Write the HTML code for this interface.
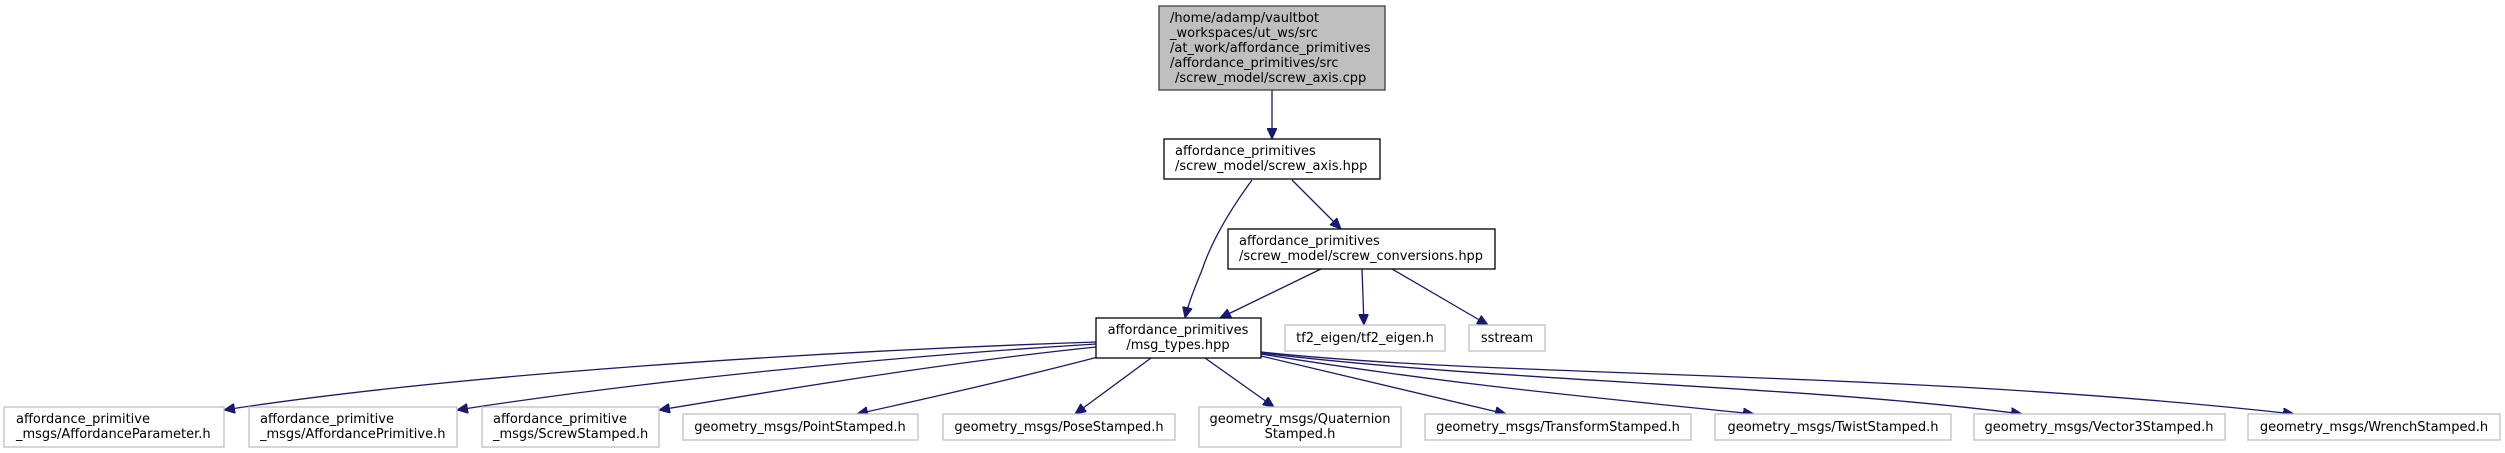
<!DOCTYPE html>
<html><head><meta charset="utf-8"><style>
html,body{margin:0;padding:0;background:#fff;}
svg{display:block;}
text{font-family:"DejaVu Sans","Liberation Sans",sans-serif;font-size:13px;fill:#000;}
.e{fill:none;stroke:#191970;stroke-width:1.3;marker-end:url(#a);}
.g{fill:#fff;stroke:#bfbfbf;stroke-width:1.3;}
.b{fill:#fff;stroke:#000;stroke-width:1.3;}
</style></head><body>
<svg width="2505" height="453" viewBox="0 0 2505 453" xmlns="http://www.w3.org/2000/svg">
<defs>
<marker id="a" markerWidth="12" markerHeight="10" refX="11" refY="5" orient="auto" markerUnits="userSpaceOnUse">
<path d="M0,0 L11,5 L0,10 z" fill="#191970" stroke="#191970"/>
</marker>
</defs>

<!-- edges -->
<path class="e" d="M1272,90 L1272,139"/>
<path class="e" d="M1252,180 C1230,210 1212,240 1202,270 C1193,292 1188,305 1185,318"/>
<path class="e" d="M1292,180 L1341,229"/>
<path class="e" d="M1321,269 L1220,318"/>
<path class="e" d="M1362,269 L1364,325"/>
<path class="e" d="M1392,269 L1488,325"/>

<path class="e" d="M1096,342 C800,352 450,375 224,410"/>
<path class="e" d="M1096,344 C900,356 650,380 457,410"/>
<path class="e" d="M1096,347 C950,362 780,390 659,410"/>
<path class="e" d="M1098,357 C1010,380 920,400 857,414"/>
<path class="e" d="M1151,358 L1075,414"/>
<path class="e" d="M1205,358 L1274,407"/>
<path class="e" d="M1261,356 L1506,414"/>
<path class="e" d="M1261,354 C1450,385 1620,400 1754,414"/>
<path class="e" d="M1261,353 C1500,382 1800,385 2022,414"/>
<path class="e" d="M1261,352 C1500,378 1900,370 2294,414"/>

<!-- top node -->
<rect x="1159" y="6" width="226" height="84" fill="#bfbfbf" stroke="#404040" stroke-width="1.3"/>
<text x="1170" y="22">/home/adamp/vaultbot</text>
<text x="1170" y="37">_workspaces/ut_ws/src</text>
<text x="1170" y="52">/at_work/affordance_primitives</text>
<text x="1170" y="67">/affordance_primitives/src</text>
<text x="1175" y="82">/screw_model/screw_axis.cpp</text>

<rect class="b" x="1164" y="139" width="216" height="40"/>
<text x="1175" y="155">affordance_primitives</text>
<text x="1175" y="170">/screw_model/screw_axis.hpp</text>

<rect class="b" x="1228" y="229" width="267" height="40"/>
<text x="1239" y="245">affordance_primitives</text>
<text x="1239" y="260">/screw_model/screw_conversions.hpp</text>

<rect class="b" x="1096" y="318" width="165" height="40" stroke="#404040" stroke-width="1.6"/>
<text x="1178" y="334" text-anchor="middle">affordance_primitives</text>
<text x="1178" y="349" text-anchor="middle">/msg_types.hpp</text>

<rect class="g" x="1285" y="325" width="160" height="26"/>
<text x="1365" y="342" text-anchor="middle">tf2_eigen/tf2_eigen.h</text>
<rect class="g" x="1469" y="325" width="76" height="26"/>
<text x="1507" y="342" text-anchor="middle">sstream</text>

<!-- bottom row -->
<rect class="g" x="4" y="407" width="220" height="40"/>
<text x="16" y="423">affordance_primitive</text>
<text x="16" y="438">_msgs/AffordanceParameter.h</text>

<rect class="g" x="249" y="407" width="208" height="40"/>
<text x="260" y="423">affordance_primitive</text>
<text x="260" y="438">_msgs/AffordancePrimitive.h</text>

<rect class="g" x="482" y="407" width="177" height="40"/>
<text x="493" y="423">affordance_primitive</text>
<text x="493" y="438">_msgs/ScrewStamped.h</text>

<rect class="g" x="683" y="414" width="235" height="26"/>
<text x="800" y="431" text-anchor="middle">geometry_msgs/PointStamped.h</text>

<rect class="g" x="943" y="414" width="232" height="26"/>
<text x="1059" y="431" text-anchor="middle">geometry_msgs/PoseStamped.h</text>

<rect class="g" x="1199" y="407" width="202" height="40"/>
<text x="1300" y="423" text-anchor="middle">geometry_msgs/Quaternion</text>
<text x="1300" y="438" text-anchor="middle">Stamped.h</text>

<rect class="g" x="1425" y="414" width="266" height="26"/>
<text x="1558" y="431" text-anchor="middle">geometry_msgs/TransformStamped.h</text>

<rect class="g" x="1715" y="414" width="236" height="26"/>
<text x="1833" y="431" text-anchor="middle">geometry_msgs/TwistStamped.h</text>

<rect class="g" x="1974" y="414" width="251" height="26"/>
<text x="2099" y="431" text-anchor="middle">geometry_msgs/Vector3Stamped.h</text>

<rect class="g" x="2248" y="414" width="252" height="26"/>
<text x="2374" y="431" text-anchor="middle">geometry_msgs/WrenchStamped.h</text>
</svg>
</body></html>
